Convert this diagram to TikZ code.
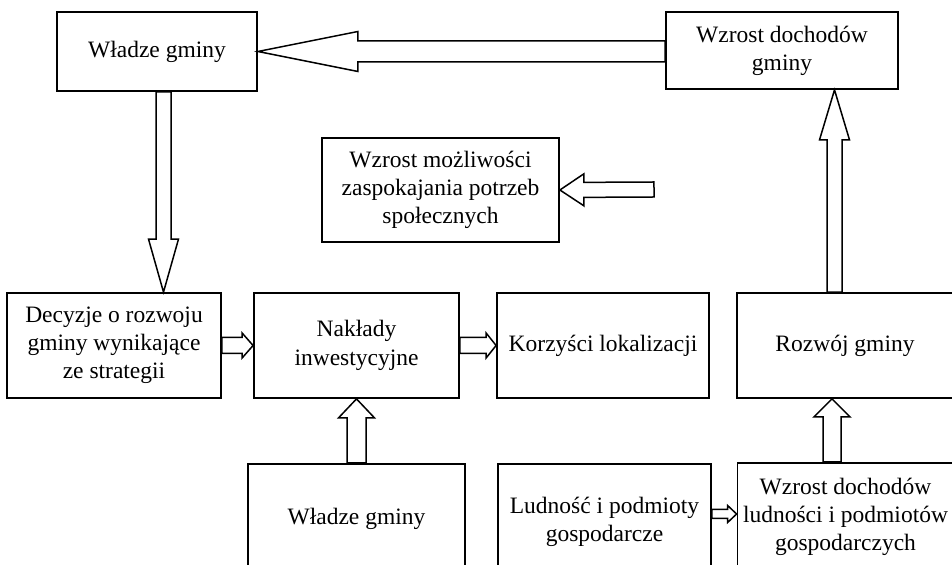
\documentclass[tikz,border=0pt]{standalone}
\usepackage{fontspec}
\setmainfont{Liberation Serif}
\usetikzlibrary{calc}
\tikzset{
  box/.style={draw, line width=0.9pt, inner sep=0pt, align=center,
    font=\fontsize{11.75}{14}\selectfont},
  cutbox/.style={box, anchor=north, text depth=40pt},
  blockline/.style={draw, line width=0.75pt, line join=miter, fill=white}
}
\newcommand{\blockarrow}[5]{%
  \coordinate (ba-s) at (#1);
  \coordinate (ba-t) at (#2);
  \coordinate (ba-h) at ($(ba-t)!#5!(ba-s)$);
  \draw[blockline] ($(ba-s)!#3!90:(ba-t)$) -- ($(ba-h)!#3!-90:(ba-s)$)
    -- ($(ba-h)!#4!-90:(ba-s)$) -- (ba-t) -- ($(ba-h)!#4!90:(ba-s)$)
    -- ($(ba-h)!#3!90:(ba-s)$) -- ($(ba-s)!#3!-90:(ba-t)$) -- cycle;
}

\begin{document}
\begin{tikzpicture}[x=0.5pt, y=-0.5pt]
\useasboundingbox (0,0) rectangle (952,565);
\clip (0,0) rectangle (952,565);

\node[box, minimum width=100pt, minimum height=39.5pt] (wg1) at (157,51.5) {Władze gminy};
\node[box, minimum width=116pt, minimum height=38.5pt] (wdg) at (782,50.5) {Wzrost dochodów\\gminy};
\node[box, minimum width=118.5pt, minimum height=52pt] (wmz) at (440.5,190) {Wzrost możliwości\\zaspokajania potrzeb\\społecznych};

\node[box, minimum width=107pt, minimum height=52.5pt] (dec) at (114,345.5) {Decyzje o rozwoju\\gminy wynikające\\ze strategii};
\node[box, minimum width=102.5pt, minimum height=52.5pt, font=\fontsize{11.75}{14.5}\selectfont] (nak) at (356.5,345.5) {Nakłady\\inwestycyjne};
\node[box, minimum width=106pt, minimum height=52.5pt] (kor) at (603,345.5) {Korzyści lokalizacji};
\node[box, minimum width=108pt, minimum height=52.5pt] (roz) at (845,345.5) {Rozwój gminy};

\node[cutbox, minimum width=108.5pt, text height=30.5pt] (wg2) at (356.5,463) {Władze gminy};
\node[cutbox, minimum width=106.5pt, text height=39pt] (lud) at (604.5,463) {Ludność i podmioty\\gospodarcze};
\node[cutbox, minimum width=108pt, text height=44pt] (wdl) at (845.5,462) {Wzrost dochodów\\ludności i podmiotów\\gospodarczych};

\coordinate (d1) at ([xshift=3.25pt]wg1.south);
\coordinate (u1) at ([xshift=-5.25pt]roz.north);
\coordinate (m1) at (654,189.5);
\coordinate (u2) at ([xshift=-6.75pt]wdl.north);
\coordinate (l1) at (lud.east |- 0,514);

\blockarrow{wdg.west |- wg1.east}{wg1.east}{5.25pt}{10pt}{50pt}
\blockarrow{d1}{d1 |- dec.north}{3.75pt}{7.5pt}{26.5pt}
\blockarrow{u1}{u1 |- wdg.south}{3.75pt}{7.5pt}{25pt}
\blockarrow{m1}{wmz.east}{3.75pt}{8pt}{12pt}
\blockarrow{dec.east}{nak.west}{4pt}{6.25pt}{5.5pt}
\blockarrow{nak.east}{kor.west}{4pt}{6.25pt}{5pt}
\blockarrow{wg2.north}{nak.south}{4.75pt}{9pt}{9.5pt}
\blockarrow{u2}{u2 |- roz.south}{4.5pt}{9pt}{9pt}
\blockarrow{l1}{l1 -| wdl.west}{2.25pt}{4.25pt}{4.5pt}
\end{tikzpicture}
\end{document}
